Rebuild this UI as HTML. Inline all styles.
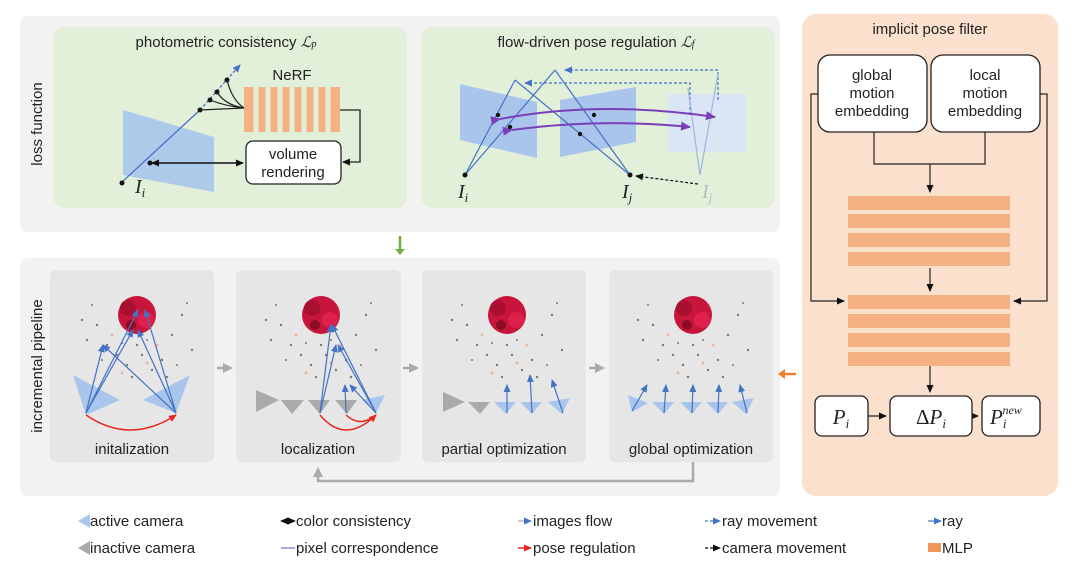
<!DOCTYPE html>
<html><head><meta charset="utf-8"><style>
html,body{margin:0;padding:0;background:#fff}
svg{display:block}
text{font-family:"Liberation Sans","DejaVu Sans",sans-serif;fill:#222}
.s{font-size:15px}
.i{font-family:"Liberation Serif",serif;font-style:italic}
</style></head><body>
<svg width="1080" height="564" viewBox="0 0 1080 564" xmlns="http://www.w3.org/2000/svg">
<defs>
<marker id="ab" markerUnits="userSpaceOnUse" markerWidth="8" markerHeight="7" refX="7" refY="3.5" orient="auto"><path d="M0,0L8,3.5L0,7z" fill="#4472c4"/></marker>
<marker id="ak" markerUnits="userSpaceOnUse" markerWidth="8" markerHeight="7" refX="7" refY="3.5" orient="auto"><path d="M0,0L8,3.5L0,7z" fill="#111"/></marker>
<marker id="aks" markerUnits="userSpaceOnUse" markerWidth="8" markerHeight="7" refX="1" refY="3.5" orient="auto"><path d="M8,0L0,3.5L8,7z" fill="#111"/></marker>
<marker id="ar" markerUnits="userSpaceOnUse" markerWidth="8" markerHeight="7" refX="7" refY="3.5" orient="auto"><path d="M0,0L8,3.5L0,7z" fill="#e8261e"/></marker>
<marker id="ap" markerUnits="userSpaceOnUse" markerWidth="10" markerHeight="9" refX="9" refY="4.5" orient="auto"><path d="M0,0L10,4.5L0,9z" fill="#7a3fb8"/></marker>
<marker id="ag" markerUnits="userSpaceOnUse" markerWidth="10" markerHeight="10" refX="8" refY="5" orient="auto"><path d="M0,0L10,5L0,10z" fill="#aaa"/></marker>
<g id="flower">
<circle cx="0" cy="0" r="19" fill="#c8153c"/>
<circle cx="-9" cy="-7" r="8" fill="#a80f30"/><circle cx="9" cy="5" r="8" fill="#e0204c"/>
<circle cx="-6" cy="10" r="5" fill="#8a0d25"/>
<g fill="#777"><circle cx="-40" cy="10" r="1.2"/><circle cx="-30" cy="30" r="1.2"/><circle cx="35" cy="20" r="1.2"/><circle cx="45" cy="0" r="1.2"/><circle cx="-50" cy="25" r="1.2"/><circle cx="5" cy="40" r="1.2"/><circle cx="-10" cy="50" r="1.2"/><circle cx="15" cy="55" r="1.2"/><circle cx="25" cy="45" r="1.2"/><circle cx="-20" cy="40" r="1.2"/><circle cx="55" cy="35" r="1.2"/><circle cx="-55" cy="5" r="1.2"/><circle cx="0" cy="30" r="1.2"/><circle cx="-5" cy="62" r="1.2"/><circle cx="30" cy="62" r="1.2"/><circle cx="-35" cy="45" r="1"/><circle cx="40" cy="50" r="1"/><circle cx="-45" cy="-10" r="1"/><circle cx="50" cy="-12" r="1"/><circle cx="10" cy="25" r="1"/><circle cx="-15" cy="28" r="1"/></g>
<g fill="#e9b898"><circle cx="-25" cy="20" r="1.5"/><circle cx="20" cy="30" r="1.5"/><circle cx="-15" cy="58" r="1.5"/><circle cx="10" cy="48" r="1.5"/></g>
</g>
</defs>

<rect x="20" y="16" width="760" height="216" rx="8" fill="#f2f2f2"/>
<text class="s" transform="translate(42,124) rotate(-90)" text-anchor="middle">loss function</text>
<rect x="53" y="27" width="354" height="181" rx="12" fill="#e2efd9"/>
<rect x="421" y="27" width="354" height="181" rx="12" fill="#e2efd9"/>
<text class="s" x="226" y="47" text-anchor="middle">photometric consistency <tspan class="i">ℒ</tspan><tspan class="i" font-size="10">p</tspan></text>
<text class="s" x="596" y="47" text-anchor="middle">flow-driven pose regulation <tspan class="i">ℒ</tspan><tspan class="i" font-size="10">f</tspan></text>

<polygon points="123,110 214,137 214,192 123,175" fill="#a9c5eb" opacity="0.9"/>
<line x1="122" y1="182" x2="200" y2="110" stroke="#4472c4" stroke-width="1.3"/>
<line x1="200" y1="110" x2="240" y2="65" stroke="#4472c4" stroke-width="1.3" stroke-dasharray="3,2" marker-end="url(#ab)"/>
<circle cx="122" cy="183" r="2.5" fill="#111"/>
<text class="i" x="135" y="193" font-size="20">I<tspan font-size="13" dy="4">i</tspan></text>
<rect x="244" y="87" width="96" height="45" fill="#f4b183"/>
<g stroke="#e2efd9" stroke-width="5"><line x1="256" y1="87" x2="256" y2="132"/><line x1="268" y1="87" x2="268" y2="132"/><line x1="280" y1="87" x2="280" y2="132"/><line x1="292" y1="87" x2="292" y2="132"/><line x1="304" y1="87" x2="304" y2="132"/><line x1="316" y1="87" x2="316" y2="132"/><line x1="328" y1="87" x2="328" y2="132"/></g>
<text class="s" x="292" y="80" text-anchor="middle">NeRF</text>
<g fill="#111"><circle cx="227" cy="80" r="2.5"/><circle cx="217" cy="92" r="2.5"/><circle cx="210" cy="100" r="2.5"/><circle cx="200" cy="110" r="2.5"/></g>
<g stroke="#222" fill="none" stroke-width="1.2"><path d="M227,80 Q232,100 244,108"/><path d="M217,92 Q225,105 244,108"/><path d="M210,100 Q225,106 244,108"/><path d="M200,110 L244,108"/></g>
<rect x="246" y="141" width="95" height="43" rx="7" fill="#fff" stroke="#222" stroke-width="1.3"/>
<text class="s" x="293" y="159" text-anchor="middle">volume</text>
<text class="s" x="293" y="177" text-anchor="middle">rendering</text>
<path d="M340,110 H360 V162 H343" fill="none" stroke="#222" stroke-width="1.3" marker-end="url(#ak)"/>
<line x1="152" y1="163" x2="243" y2="163" stroke="#111" stroke-width="1.5" marker-start="url(#aks)" marker-end="url(#ak)"/>
<circle cx="150" cy="163" r="2.5" fill="#111"/>

<polygon points="460,84 537,102 537,158 460,140" fill="#a9c5eb"/>
<polygon points="560,100 636,87 636,142 560,157" fill="#a9c5eb"/>
<rect x="668" y="94" width="78" height="58" fill="#dae6f5"/>
<g stroke="#4472c4" stroke-width="1.2" fill="none">
<line x1="465" y1="175" x2="515" y2="80"/><line x1="465" y1="175" x2="555" y2="70"/>
<line x1="630" y1="175" x2="515" y2="80"/><line x1="630" y1="175" x2="555" y2="70"/>
</g>
<g stroke="#4472c4" stroke-width="1.2" stroke-dasharray="3,2" fill="none">
<path d="M690,115 V83 H525" marker-end="url(#ab)"/><path d="M718,100 V70 H565" marker-end="url(#ab)"/>
</g>
<g stroke="#9db5e0" stroke-width="1.2"><line x1="700" y1="175" x2="688" y2="88"/><line x1="700" y1="175" x2="718" y2="74"/></g>
<path d="M500,119 Q600,100 715,117" fill="none" stroke="#7a3fb8" stroke-width="2" marker-start="url(#ap)" marker-end="url(#ap)"/>
<path d="M512,130 Q600,118 690,127" fill="none" stroke="#7a3fb8" stroke-width="2" marker-start="url(#ap)" marker-end="url(#ap)"/>
<g fill="#111"><circle cx="498" cy="115" r="2.2"/><circle cx="510" cy="127" r="2.2"/><circle cx="594" cy="115" r="2.2"/><circle cx="580" cy="134" r="2.2"/><circle cx="465" cy="175" r="2.5"/><circle cx="630" cy="175" r="2.5"/></g>
<line x1="698" y1="184" x2="636" y2="176" stroke="#111" stroke-width="1.2" stroke-dasharray="3,2" marker-end="url(#ak)"/>
<text class="i" x="458" y="198" font-size="20">I<tspan font-size="13" dy="4">i</tspan></text>
<text class="i" x="622" y="198" font-size="20">I<tspan font-size="13" dy="4">j</tspan></text>
<text class="i" x="702" y="198" font-size="20" style="fill:#bbb">I<tspan font-size="13" dy="4">j</tspan></text>

<line x1="400" y1="236" x2="400" y2="250" stroke="#70ad47" stroke-width="2.5"/>
<path d="M395,249 L405,249 L400,255z" fill="#70ad47"/>

<rect x="20" y="258" width="760" height="238" rx="8" fill="#f2f2f2"/>
<text class="s" transform="translate(42,366) rotate(-90)" text-anchor="middle">incremental pipeline</text>
<rect x="50" y="270" width="164" height="192" rx="6" fill="#e6e6e6"/>
<rect x="236" y="270" width="165" height="192" rx="6" fill="#e6e6e6"/>
<rect x="422" y="270" width="164" height="192" rx="6" fill="#e6e6e6"/>
<rect x="609" y="270" width="164" height="192" rx="6" fill="#e6e6e6"/>
<use href="#flower" x="137" y="315"/><use href="#flower" x="321" y="315"/><use href="#flower" x="507" y="315"/><use href="#flower" x="693" y="315"/>
<text class="s" x="132" y="454" text-anchor="middle">initalization</text>
<text class="s" x="318" y="454" text-anchor="middle">localization</text>
<text class="s" x="504" y="454" text-anchor="middle">partial optimization</text>
<text class="s" x="691" y="454" text-anchor="middle">global optimization</text>
<polygon points="73,375 120,400 86,415" fill="#a9c5eb"/><polygon points="190,375 176,413 143,400" fill="#a9c5eb"/>
<g stroke="#4472c4" stroke-width="1.2" marker-end="url(#ab)"><line x1="86" y1="413" x2="103" y2="345"/><line x1="86" y1="413" x2="138" y2="310"/><line x1="86" y1="413" x2="133" y2="330"/><line x1="176" y1="413" x2="103" y2="345"/><line x1="176" y1="413" x2="145" y2="310"/><line x1="176" y1="413" x2="138" y2="330"/></g>
<path d="M86,415 Q130,445 176,415" fill="none" stroke="#e8261e" stroke-width="1.5" marker-end="url(#ar)"/>
<g fill="#aaa"><polygon points="256,390 279,400 256,412"/><polygon points="281,400 304,400 292,414"/><polygon points="308,400 330,400 320,414"/><polygon points="335,400 357,400 347,414"/></g>
<polygon points="362,400 385,395 376,413" fill="#a9c5eb"/>
<g stroke="#4472c4" stroke-width="1.2" marker-end="url(#ab)"><line x1="320" y1="413" x2="331" y2="325"/><line x1="320" y1="413" x2="336" y2="345"/><line x1="346" y1="413" x2="345" y2="385"/><line x1="376" y1="413" x2="332" y2="325"/><line x1="376" y1="413" x2="338" y2="345"/><line x1="376" y1="413" x2="350" y2="385"/></g>
<path d="M320,415 Q345,445 376,415" fill="none" stroke="#e8261e" stroke-width="1.5" marker-end="url(#ar)"/>
<path d="M346,415 Q360,428 376,415" fill="none" stroke="#e8261e" stroke-width="1.5"/>
<g fill="#aaa"><polygon points="443,392 465,402 443,412"/><polygon points="468,402 490,402 480,414"/></g>
<g fill="#a9c5eb"><polygon points="494,402 516,402 506,414"/><polygon points="520,402 542,402 532,414"/><polygon points="548,402 570,398 562,414"/></g>
<g stroke="#4472c4" stroke-width="1.2" marker-end="url(#ab)"><line x1="507" y1="413" x2="507" y2="385"/><line x1="532" y1="413" x2="530" y2="375"/><line x1="563" y1="413" x2="552" y2="380"/></g>
<g fill="#a9c5eb"><polygon points="628,395 648,403 632,412"/><polygon points="652,402 674,402 664,414"/><polygon points="680,402 702,402 692,414"/><polygon points="706,402 728,402 718,414"/><polygon points="732,402 754,398 746,414"/></g>
<g stroke="#4472c4" stroke-width="1.2" marker-end="url(#ab)"><line x1="632" y1="411" x2="647" y2="385"/><line x1="664" y1="413" x2="666" y2="385"/><line x1="692" y1="413" x2="693" y2="385"/><line x1="718" y1="413" x2="719" y2="385"/><line x1="747" y1="413" x2="740" y2="385"/></g>
<g stroke="#aaa" stroke-width="2.5" fill="none"><line x1="217" y1="368" x2="231" y2="368" marker-end="url(#ag)"/><line x1="403" y1="368" x2="417" y2="368" marker-end="url(#ag)"/><line x1="589" y1="368" x2="603" y2="368" marker-end="url(#ag)"/><path d="M693,462 V481 H318 V469" marker-end="url(#ag)"/></g>
<line x1="796" y1="374" x2="783" y2="374" stroke="#ed7d31" stroke-width="2.5"/><path d="M785,369 L785,379 L778,374z" fill="#ed7d31"/>

<rect x="802" y="14" width="256" height="482" rx="14" fill="#fbe0cd"/>
<text class="s" x="930" y="34" text-anchor="middle">implicit pose filter</text>
<rect x="818" y="55" width="109" height="77" rx="12" fill="#fff" stroke="#222" stroke-width="1.3"/>
<rect x="931" y="55" width="109" height="77" rx="12" fill="#fff" stroke="#222" stroke-width="1.3"/>
<text class="s" x="872" y="80" text-anchor="middle">global</text><text class="s" x="872" y="98" text-anchor="middle">motion</text><text class="s" x="872" y="116" text-anchor="middle">embedding</text>
<text class="s" x="985" y="80" text-anchor="middle">local</text><text class="s" x="985" y="98" text-anchor="middle">motion</text><text class="s" x="985" y="116" text-anchor="middle">embedding</text>
<g fill="#f4b183"><rect x="848" y="196" width="162" height="14"/><rect x="848" y="214" width="162" height="14"/><rect x="848" y="233" width="162" height="14"/><rect x="848" y="252" width="162" height="14"/>
<rect x="848" y="295" width="162" height="14"/><rect x="848" y="314" width="162" height="14"/><rect x="848" y="333" width="162" height="14"/><rect x="848" y="352" width="162" height="14"/></g>
<g stroke="#222" stroke-width="1.2" fill="none">
<path d="M874,132 V164 H985 V132"/><line x1="930" y1="164" x2="930" y2="192" marker-end="url(#ak)"/>
<line x1="930" y1="268" x2="930" y2="291" marker-end="url(#ak)"/>
<path d="M818,94 H811 V301 H844" marker-end="url(#ak)"/><path d="M1040,94 H1047 V301 H1014" marker-end="url(#ak)"/>
<line x1="930" y1="366" x2="930" y2="392" marker-end="url(#ak)"/>
<line x1="868" y1="416" x2="886" y2="416" marker-end="url(#ak)"/><line x1="972" y1="416" x2="978" y2="416" marker-end="url(#ak)"/>
</g>
<rect x="815" y="396" width="53" height="40" rx="7" fill="#fff" stroke="#222" stroke-width="1.3"/>
<rect x="890" y="396" width="82" height="40" rx="7" fill="#fff" stroke="#222" stroke-width="1.3"/>
<rect x="982" y="396" width="58" height="40" rx="7" fill="#fff" stroke="#222" stroke-width="1.3"/>
<text class="i" x="841" y="424" font-size="21" text-anchor="middle">P<tspan font-size="13" dy="4">i</tspan></text>
<text x="931" y="424" font-size="21" text-anchor="middle" style="font-family:'Liberation Serif',serif">Δ<tspan font-style="italic">P</tspan><tspan font-style="italic" font-size="13" dy="4">i</tspan></text>
<text class="i" x="990" y="424" font-size="21">P<tspan font-size="13" dy="4">i</tspan><tspan font-size="12" dx="-4" dy="-14">new</tspan></text>

<g class="s">
<polygon points="78,521 90,514 90,528" fill="#a9c5eb"/><text class="s" x="90" y="526">active camera</text>
<polygon points="78,548 90,541 90,555" fill="#aaa"/><text class="s" x="90" y="553">inactive camera</text>
<line x1="281" y1="521" x2="295" y2="521" stroke="#111" stroke-width="1" marker-start="url(#aks)" marker-end="url(#ak)"/><text class="s" x="296" y="526">color consistency</text>
<line x1="281" y1="548" x2="295" y2="548" stroke="#7a3fb8" stroke-width="1"/><text class="s" x="296" y="553">pixel correspondence</text>
<line x1="518" y1="521" x2="531" y2="521" stroke="#aaa" stroke-width="1.2" marker-end="url(#ab)" style="stroke:#aaa"/><text class="s" x="533" y="526">images flow</text>
<line x1="518" y1="548" x2="531" y2="548" stroke="#e8261e" stroke-width="1.5" marker-end="url(#ar)"/><text class="s" x="533" y="553">pose regulation</text>
<line x1="705" y1="521" x2="720" y2="521" stroke="#4472c4" stroke-width="1.2" stroke-dasharray="3,2" marker-end="url(#ab)"/><text class="s" x="722" y="526">ray movement</text>
<line x1="705" y1="548" x2="720" y2="548" stroke="#111" stroke-width="1.2" stroke-dasharray="3,2" marker-end="url(#ak)"/><text class="s" x="722" y="553">camera movement</text>
<line x1="928" y1="521" x2="941" y2="521" stroke="#4472c4" stroke-width="1.2" marker-end="url(#ab)"/><text class="s" x="942" y="526">ray</text>
<rect x="928" y="543" width="13" height="9" fill="#ed7d31" opacity="0.8"/><text class="s" x="942" y="553">MLP</text>
</g>
</svg>
</body></html>
